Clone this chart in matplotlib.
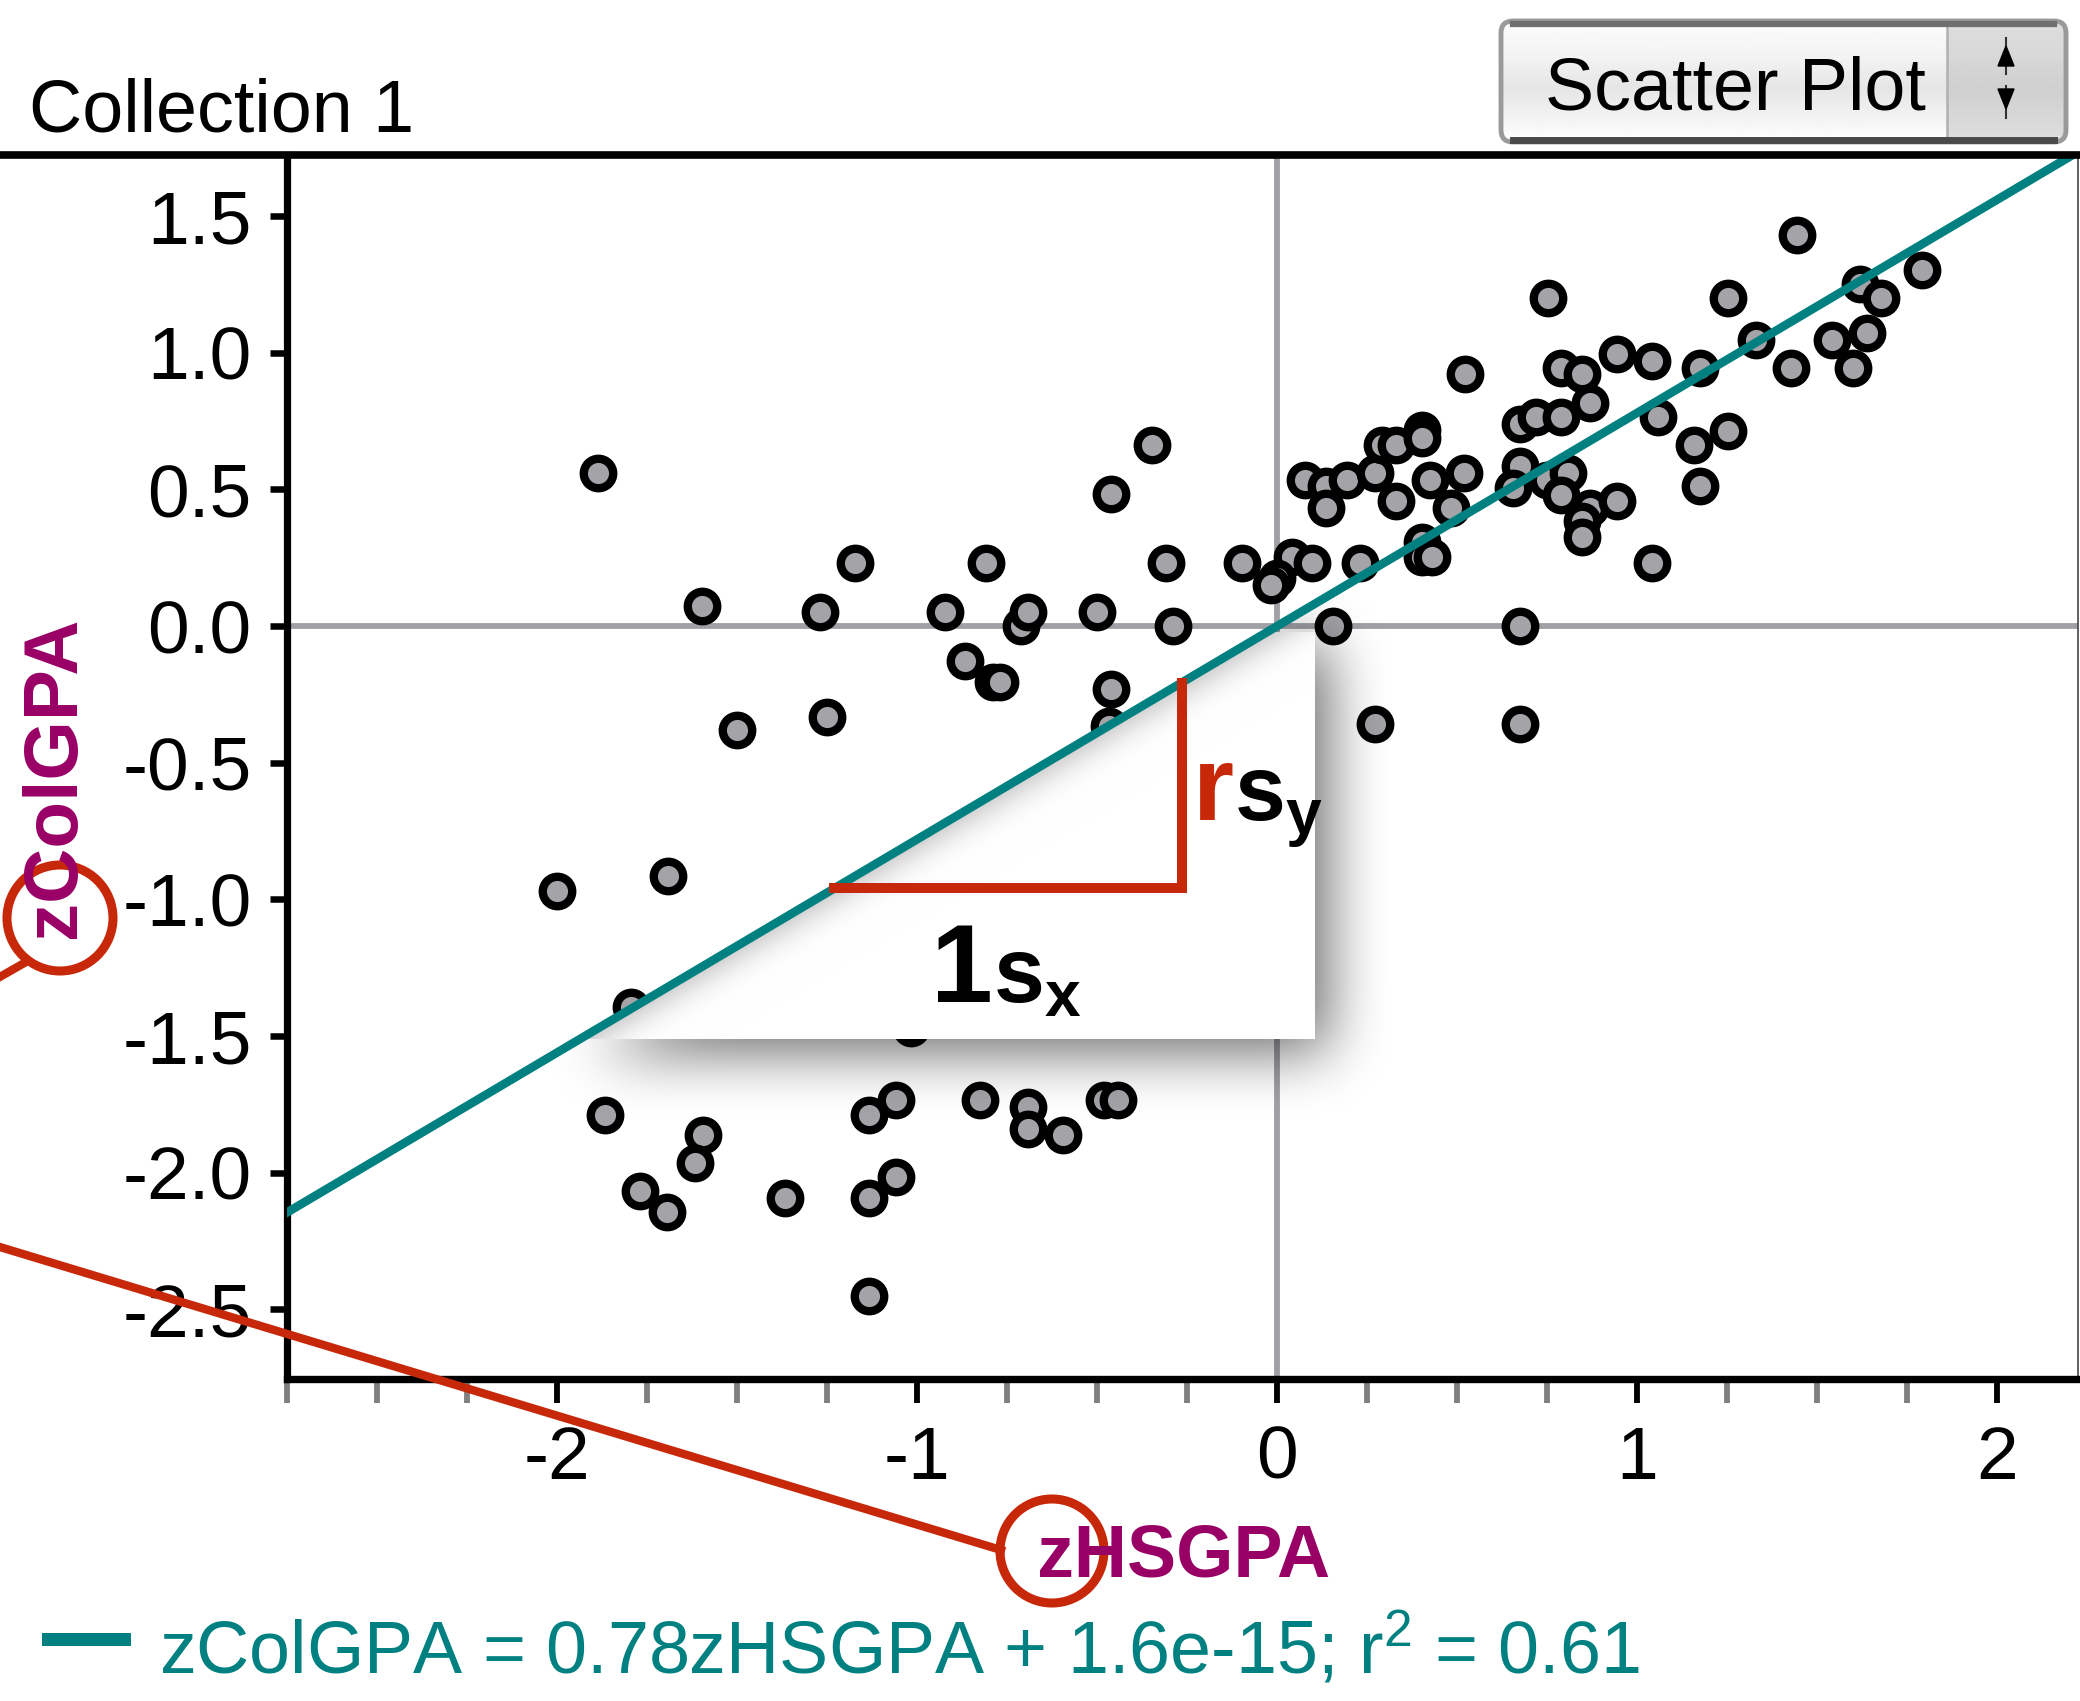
import matplotlib.pyplot as plt
import numpy as np
from matplotlib.patches import Circle, FancyBboxPatch, Polygon, Rectangle
from matplotlib.ticker import FormatStrFormatter

OUT_FILE = "out.png"
W_PX, H_PX = 2080, 1701
DPI = 100

X_LABEL = "zHSGPA"
Y_LABEL = "zColGPA"

# standardized high school GPA (x) and college GPA (y), one entry per student
Z_HSGPA = [
    -1.886, -1.597, -1.500, -1.270, -1.251, -1.174, -0.923, -0.866, -0.808,
    -0.789, -0.769, -0.711, -0.693, -0.500, -0.462, -0.462, -0.466, -0.347,
    -0.309, -0.289, -0.097,
    -2.000, -1.691, -1.794, -1.867, -1.596, -1.617, -1.771, -1.694, -1.366,
    -1.135, -1.058, -1.135, -1.058, -1.135, -0.826, -0.692, -0.692, -0.596,
    -0.481, -0.443, -1.018,
    0.040, 0.000, -0.018, 0.097, 0.231, 0.155, 0.271, 0.078, 0.136, 0.136,
    0.194, 0.272, 0.291, 0.330, 0.403, 0.403, 0.330, 0.425, 0.520, 0.483,
    0.403, 0.403, 0.429, 0.522,
    0.674, 0.720, 0.789, 0.868, 0.789, 0.848, 0.944, 1.041, 1.175, 0.753,
    1.059, 1.253, 1.157, 1.175, 1.041, 0.674, 0.656, 0.750, 0.808, 0.789,
    0.868, 0.848, 0.848, 0.944, 0.674, 0.674, 1.330, 1.253, 1.445, 1.619,
    1.676, 1.791, 1.542, 1.639, 1.427, 1.599,
]
Z_COLGPA = [
    0.561, 0.075, -0.382, 0.052, -0.332, 0.229, 0.052, -0.127, 0.229,
    -0.205, -0.205, 0.000, 0.052, 0.052, 0.483, -0.229, -0.364, 0.664,
    0.229, 0.000, 0.229,
    -0.969, -0.915, -1.392, -1.787, -1.863, -1.965, -2.068, -2.145, -2.093,
    -1.787, -1.735, -2.093, -2.016, -2.450, -1.735, -1.761, -1.839, -1.863,
    -1.735, -1.735, -1.470,
    0.254, 0.177, 0.150, 0.229, 0.229, 0.000, -0.358, 0.535, 0.511, 0.431,
    0.535, 0.560, 0.664, 0.664, 0.719, 0.688, 0.458, 0.535, 0.560, 0.431,
    0.309, 0.254, 0.254, 0.921,
    0.740, 0.765, 0.765, 0.817, 0.945, 0.921, 0.994, 0.970, 0.945, 1.200,
    0.765, 0.715, 0.664, 0.511, 0.229, 0.584, 0.505, 0.535, 0.560, 0.480,
    0.431, 0.385, 0.327, 0.458, 0.000, -0.358, 1.046, 1.200, 1.429, 1.251,
    1.200, 1.303, 1.046, 1.071, 0.943, 0.943,
]

# least squares fit shown in the legend
SLOPE = 0.78
INTERCEPT = 1.6e-15
R_SQUARED = 0.61

X_TICKS = [-2, -1, 0, 1, 2]
Y_TICKS = [-2.5, -2.0, -1.5, -1.0, -0.5, 0.0, 0.5, 1.0, 1.5]

TEAL = "#008080"
PURPLE = "#990066"
RED = "#c8280a"
DOT_GRAY = "#a3a3a8"
ZERO_GRAY = "#a0a0a5"


def blur(a, r, passes=3):
    # repeated box blur, close enough to a gaussian
    for _ in range(passes):
        for axis in (0, 1):
            pad = [(0, 0), (0, 0)]
            pad[axis] = (r + 1, r)
            c = np.cumsum(np.pad(a, pad, mode="edge"), axis=axis)
            n = c.shape[axis]
            a = (
                np.take(c, np.arange(2 * r + 1, n), axis=axis)
                - np.take(c, np.arange(0, n - 2 * r - 1), axis=axis)
            ) / (2 * r + 1)
    return a


def shifted(mask, n):
    out = np.zeros(mask.shape)
    out[n:, n:] = mask[:-n, :-n]
    return out


def draw_card(ax, right, top, bottom):
    # white card tucked under the fitted line, with soft shadows
    x0, x1 = ax.get_xlim()
    y0, y1 = ax.get_ylim()
    bb = ax.get_window_extent()
    w, h = int(round(bb.width)), int(round(bb.height))
    xs = x0 + (np.arange(w) + 0.5) / w * (x1 - x0)
    ys = y1 - (np.arange(h) + 0.5) / h * (y1 - y0)
    gx, gy = np.meshgrid(xs, ys)

    above = gy > SLOPE * gx + INTERCEPT
    card = ~above & (gx <= right) & (gy <= top) & (gy >= bottom)

    drop = blur(shifted(card, 12), 28)
    fold = blur(shifted(above, 4), 16)

    img = np.zeros((h, w, 4))
    img[..., 3] = np.where(above, 0.0, 0.6 * drop)
    shade = 1.0 - 0.32 * fold
    img[card, 0] = shade[card]
    img[card, 1] = shade[card]
    img[card, 2] = shade[card]
    img[card, 3] = 1.0
    ax.imshow(img, extent=(x0, x1, y0, y1), origin="upper", aspect="auto",
              interpolation="nearest", zorder=4)
    ax.set_xlim(x0, x1)
    ax.set_ylim(y0, y1)


def draw_button(ov):
    box = FancyBboxPatch((1501, 21), 565, 121,
                         boxstyle="round,pad=0,rounding_size=12",
                         fc="none", ec="#9a9a9a", lw=3.5, zorder=3)
    ov.add_patch(box)
    grad = np.interp(np.linspace(0, 1, 120), [0, 0.3, 0.55, 0.8, 1.0],
                     [0.99, 0.95, 0.9, 0.95, 1.0])
    im = ov.imshow(np.tile(grad[:, None], (1, 2)), cmap="gray", vmin=0, vmax=1,
                   extent=(1501, 2066, 142, 21), aspect="auto", zorder=1)
    im.set_clip_path(box)
    side = Rectangle((1947, 21), 119, 121, fc="#b0b0b0", alpha=0.4, ec="none", zorder=2)
    ov.add_patch(side)
    side.set_clip_path(box)
    ov.plot([1947, 1947], [26, 137], color="#b0b0b0", lw=1.8, zorder=3)
    ov.plot([1513, 2054], [24, 24], color="#6e6e6e", lw=4.5, zorder=4)
    ov.plot([1513, 2054], [140, 140], color="#4a4a4a", lw=5, zorder=4)
    ov.plot([2006, 2006], [38, 74], color="#333333", lw=1.5, zorder=4)
    ov.plot([2006, 2006], [86, 118], color="#333333", lw=1.5, zorder=4)
    ov.add_patch(Polygon([[1998, 66], [2014, 66], [2006, 46]], color="black", zorder=5))
    ov.add_patch(Polygon([[1998, 89], [2014, 89], [2006, 109]], color="black", zorder=5))
    ov.text(1545, 110, "Scatter Plot", fontsize=53, va="baseline", ha="left", zorder=5)


def plot():
    plt.rcParams["font.family"] = "Liberation Sans"
    plt.rcParams["axes.unicode_minus"] = False
    plt.rcParams["mathtext.fontset"] = "custom"
    plt.rcParams["mathtext.rm"] = "Liberation Sans"
    plt.rcParams["mathtext.bf"] = "Liberation Sans:bold"
    plt.rcParams["mathtext.default"] = "regular"

    fig = plt.figure(figsize=(W_PX / DPI, H_PX / DPI), dpi=DPI)
    ax = fig.add_axes([287 / W_PX, 1 - 1379 / H_PX, 1791 / W_PX, 1224 / H_PX])
    ax.set_xlim(-2.7505, 2.2245)
    ax.set_ylim(-2.7545, 1.7234)

    ax.spines["top"].set_visible(False)
    ax.spines["left"].set_linewidth(5.2)
    ax.spines["bottom"].set_linewidth(5.3)
    ax.spines["right"].set_linewidth(1.2)
    ax.spines["right"].set_color("#444444")

    ax.set_xticks(X_TICKS)
    ax.set_xticks(np.arange(-2.75, 2.01, 0.25), minor=True)
    ax.xaxis.set_major_formatter(FormatStrFormatter("%d"))
    ax.set_yticks(Y_TICKS)
    ax.yaxis.set_major_formatter(FormatStrFormatter("%.1f"))
    ax.tick_params(axis="x", which="both", direction="out", length=17, width=4.2,
                   pad=16, labelsize=54)
    ax.tick_params(axis="x", which="minor", color="#808080")
    ax.tick_params(axis="y", direction="out", length=12.5, width=4.7, pad=13,
                   labelsize=54)

    ax.axhline(0, color=ZERO_GRAY, lw=4.2, zorder=1)
    ax.axvline(0, color=ZERO_GRAY, lw=4.2, zorder=1)

    ax.scatter(Z_HSGPA, Z_COLGPA, s=450, c=DOT_GRAY, edgecolors="black",
               linewidths=6.0, zorder=3)

    draw_card(ax, right=0.105, top=-0.022, bottom=-1.512)

    xs = np.array(ax.get_xlim())
    ax.plot(xs, SLOPE * xs + INTERCEPT, color=TEAL, lw=6.2, zorder=5)

    # rise over run triangle under the line
    run0, run1 = -1.23, -0.265
    ax.plot([run0, run1, run1],
            [SLOPE * run0 + INTERCEPT, SLOPE * run0 + INTERCEPT, SLOPE * run1 + INTERCEPT],
            color=RED, lw=7.2, solid_joinstyle="miter", zorder=6)

    # r*s_y and 1*s_x, each half aligned on a shared anchor
    ax.text(-0.12, -0.710, "r", color=RED, fontsize=76, fontweight="bold",
            ha="right", va="baseline", zorder=7)
    ax.text(-0.12, -0.710, r"$\mathbf{s_y}$", color="black", fontsize=66,
            ha="left", va="baseline", zorder=7)
    ax.text(-0.79, -1.376, "1", color="black", fontsize=80, fontweight="bold",
            ha="right", va="baseline", zorder=7)
    ax.text(-0.79, -1.376, r"$\mathbf{s_x}$", color="black", fontsize=66,
            ha="left", va="baseline", zorder=7)

    # everything around the plot, laid out in figure pixels
    ov = fig.add_axes([0, 0, 1, 1], zorder=10)
    ov.axis("off")

    ov.plot([0, W_PX], [155, 155], color="black", lw=5.5, solid_capstyle="butt")
    ov.text(29, 132, "Collection 1", fontsize=53, va="baseline", ha="left")
    draw_button(ov)

    ov.text(55.5, 777, Y_LABEL, rotation=90, ha="center", va="center",
            fontsize=55, fontweight="bold", color=PURPLE)
    ov.text(1184, 1576, X_LABEL, ha="center", va="baseline",
            fontsize=53, fontweight="bold", color=PURPLE)

    ov.add_patch(Circle((60, 918), 53, fill=False, ec=RED, lw=6.5))
    ov.plot([26, -30], [962, 994], color=RED, lw=6)
    ov.add_patch(Circle((1052, 1551), 52, fill=False, ec=RED, lw=6.5))
    ov.plot([1001, -20], [1550, 1241], color=RED, lw=6)

    ov.add_patch(Rectangle((42, 1633), 89, 13, color=TEAL, lw=0))
    ov.text(159, 1673,
            f"{Y_LABEL} = {SLOPE:.2f}{X_LABEL} + {INTERCEPT:.1e}; r$^2$ = {R_SQUARED:.2f}",
            fontsize=53, color=TEAL, va="baseline", ha="left")

    ov.set_xlim(0, W_PX)
    ov.set_ylim(H_PX, 0)

    fig.savefig(OUT_FILE, dpi=DPI)


if __name__ == "__main__":
    plot()
